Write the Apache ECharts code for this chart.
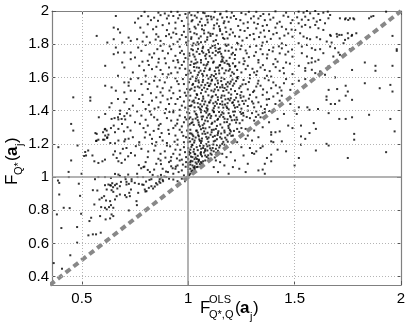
<!DOCTYPE html>
<html>
<head>
<meta charset="UTF-8">
<script src="https://cdn.jsdelivr.net/npm/echarts@6/dist/echarts.min.js"></script>
<title>F scatter</title>
<style>html,body{margin:0;padding:0;background:#fff}#main{width:409px;height:324px}</style>
</head>
<body>
<div id="main"></div>
<script>
var xMin = 0.36, xMax = 2, yMin = 0.35, yMax = 2;
var xTicks = [0.5, 1, 1.5, 2];
var yTicks = [0.4, 0.6, 0.8, 1, 1.2, 1.4, 1.6, 1.8, 2];
var refValue = 1;
var diagLine = [[0.35, 0.35], [2, 2]];

// sparse cloud left of x=0.74, above 1
var ptsUpperLeft = [
[0.66,1.97],[0.65,1.90],[0.67,1.89],[0.68,1.87],[0.57,1.85],[0.65,1.83],[0.72,1.84],[0.62,1.81],[0.69,1.81],[0.73,1.82],
[0.66,1.78],[0.67,1.75],[0.65,1.74],[0.70,1.75],[0.73,1.75],[0.69,1.69],[0.73,1.71],[0.61,1.67],[0.70,1.66],[0.67,1.61],
[0.73,1.59],[0.70,1.57],[0.72,1.57],[0.61,1.55],[0.64,1.54],[0.72,1.55],[0.66,1.52],[0.70,1.51],[0.73,1.52],[0.46,1.48],
[0.54,1.48],[0.54,1.46],[0.71,1.47],[0.63,1.42],[0.68,1.40],[0.70,1.45],[0.61,1.38],[0.64,1.35],[0.45,1.32],[0.46,1.28],
[0.39,1.18],[0.48,1.19],[0.45,1.10],[0.58,1.36],[0.57,1.26],[0.53,1.16],[0.52,1.13],[0.55,1.13],[0.57,1.22],[0.60,1.27],
[0.61,1.25],[0.61,1.29],[0.62,1.24],[0.60,1.225],[0.65,1.31],[0.67,1.36],[0.64,1.445],[0.67,1.47],
[0.654,1.355],[0.672,1.347],[0.687,1.35],[0.70,1.367],[0.679,1.38],[0.712,1.384],[0.723,1.41],[0.689,1.32],[0.704,1.347],[0.728,1.37],
[0.608,1.287],[0.617,1.28],[0.625,1.255],[0.637,1.295],[0.656,1.27],[0.672,1.29],[0.698,1.275],[0.715,1.30],[0.729,1.28],
[0.564,1.265],[0.567,1.217],[0.578,1.225],[0.606,1.225],[0.619,1.235],[0.634,1.205],[0.656,1.203],[0.672,1.22],[0.704,1.227],[0.72,1.231],[0.70,1.215],
[0.516,1.151],[0.511,1.127],[0.559,1.095],[0.578,1.085],[0.597,1.095],[0.609,1.105],[0.648,1.135],[0.656,1.155],[0.664,1.115],[0.672,1.095],[0.687,1.085],[0.703,1.105],[0.718,1.125],[0.731,1.145],[0.71,1.175],[0.693,1.17],[0.681,1.143],
[0.438,1.031],[0.439,1.0],[0.499,1.02],[0.578,1.0],[0.609,1.0],[0.656,1.019],[0.672,1.015],[0.679,1.007],[0.703,1.0],[0.718,1.015]
];

// between the diagonal and y=1
var ptsLowerLeft = [
[0.486,0.96],[0.633,0.951],[0.71,0.971],[0.684,0.971],[0.643,0.963],
[0.388,0.979],[0.394,0.965],[0.562,0.987],[0.637,0.995],[0.706,0.987],[0.734,0.987],[0.762,1.0],[0.788,1.0],[0.827,0.987],[0.866,0.987],[0.897,1.0],[0.874,0.998],
[0.394,0.895],[0.492,0.887],[0.552,0.921],[0.573,0.919],[0.609,0.951],[0.625,0.955],[0.637,0.949],[0.647,0.939],[0.656,0.951],[0.664,0.959],[0.679,0.945],[0.667,0.931],[0.64,0.921],[0.648,0.911],[0.617,0.925],
[0.605,0.885],[0.583,0.865],[0.559,0.835],[0.594,0.875],[0.614,0.859],[0.633,0.855],[0.656,0.865],[0.664,0.885],[0.679,0.895],[0.703,0.891],[0.723,0.905],[0.731,0.925],[0.726,0.885],[0.71,0.879],[0.757,0.855],[0.759,0.831],[0.765,0.905],
[0.415,0.815],[0.443,0.813],[0.383,0.775],[0.497,0.779],[0.591,0.819],[0.609,0.815],[0.617,0.805],[0.628,0.819],[0.637,0.831],[0.648,0.815],[0.64,0.775],[0.648,0.765],[0.633,0.751],[0.612,0.745],[0.586,0.765],[0.536,0.735],[0.544,0.755],[0.721,0.799],
[0.404,0.693],[0.478,0.699],[0.531,0.649],[0.552,0.655],[0.567,0.655],[0.589,0.665],[0.478,0.605],[0.446,0.529],[0.368,0.482],[0.407,0.448],
[0.71,0.955],[0.721,0.959],[0.734,0.975],[0.749,0.965],[0.768,0.959],[0.784,0.955],[0.796,0.925],[0.804,0.915],[0.815,0.935],[0.827,0.945],[0.835,0.931],[0.843,0.943],[0.855,0.955],[0.869,0.965],[0.882,0.975],
[0.802,0.973],[0.818,0.983],[0.79,0.953],[0.799,0.913],[0.88,0.983],[0.864,0.973],[0.849,0.963],[0.91,0.99],[0.93,0.985],[0.95,0.975],[0.97,0.99],[0.99,0.995],[0.96,0.96],[0.985,0.975]
];

// x from 0.74 to 1, above 1
var ptsMidLeft = [
[0.779,1.053],[0.794,1.063],[0.81,1.043],[0.833,1.013],[0.857,1.003],[0.872,1.013],[0.896,1.033],[0.927,1.053],[0.942,1.063],[0.888,1.003],
[0.76,1.02],[0.79,1.06],[0.82,1.03],[0.85,1.08],[0.88,1.05],[0.91,1.09],[0.93,1.02],[0.95,1.07],[0.97,1.04],[0.99,1.09],[0.98,1.01],[0.94,1.05],[0.87,1.1],[0.80,1.09],[0.96,1.1],[0.92,1.065],[0.84,1.045],[0.975,1.075],[0.955,1.03],[0.905,1.03],
[0.75,1.13],[0.78,1.17],[0.81,1.12],[0.84,1.16],[0.87,1.14],[0.9,1.19],[0.92,1.12],[0.94,1.165],[0.96,1.135],[0.98,1.18],[0.99,1.12],[0.77,1.195],[0.83,1.2],[0.86,1.11],[0.89,1.155],[0.95,1.195],[0.97,1.105],[0.93,1.14],[0.915,1.185],[0.985,1.15],
[0.74,1.24],[0.77,1.21],[0.80,1.27],[0.83,1.23],[0.86,1.29],[0.88,1.22],[0.91,1.26],[0.93,1.295],[0.95,1.225],[0.97,1.27],[0.99,1.24],[0.79,1.295],[0.82,1.255],[0.85,1.21],[0.875,1.265],[0.9,1.205],[0.94,1.25],[0.96,1.285],[0.98,1.21],[0.995,1.28],
[0.75,1.33],[0.78,1.37],[0.81,1.31],[0.84,1.36],[0.87,1.32],[0.89,1.385],[0.92,1.34],[0.94,1.31],[0.96,1.37],[0.98,1.33],[0.995,1.39],[0.76,1.395],[0.82,1.395],[0.855,1.345],[0.9,1.355],[0.93,1.39],[0.97,1.305],[0.985,1.36],[0.8,1.345],[0.95,1.345],
[0.74,1.43],[0.77,1.47],[0.80,1.41],[0.83,1.46],[0.86,1.42],[0.88,1.49],[0.91,1.44],[0.93,1.4],[0.95,1.47],[0.97,1.43],[0.99,1.49],[0.785,1.495],[0.815,1.435],[0.85,1.48],[0.895,1.41],[0.92,1.475],[0.96,1.405],[0.98,1.455],[0.87,1.45],[0.94,1.44],
[0.75,1.52],[0.78,1.56],[0.81,1.53],[0.84,1.58],[0.87,1.51],[0.89,1.57],[0.92,1.54],[0.94,1.595],[0.96,1.52],[0.98,1.56],[0.995,1.53],[0.765,1.595],[0.825,1.505],[0.855,1.545],[0.9,1.6],[0.93,1.505],[0.955,1.56],[0.975,1.59],[0.8,1.575],[0.88,1.535],
[0.74,1.63],[0.77,1.67],[0.80,1.61],[0.83,1.65],[0.86,1.69],[0.88,1.62],[0.91,1.66],[0.93,1.7],[0.95,1.63],[0.97,1.675],[0.99,1.615],[0.785,1.695],[0.845,1.605],[0.895,1.685],[0.92,1.625],[0.96,1.655],[0.98,1.695],[0.815,1.675],[0.87,1.645],[0.94,1.66],
[0.75,1.72],[0.78,1.76],[0.81,1.7],[0.84,1.745],[0.87,1.79],[0.89,1.715],[0.92,1.77],[0.94,1.73],[0.96,1.785],[0.98,1.74],[0.995,1.795],[0.8,1.795],[0.83,1.72],[0.855,1.77],[0.905,1.745],[0.93,1.8],[0.95,1.705],[0.97,1.76],[0.765,1.78],[0.88,1.76],
[0.76,1.83],[0.79,1.87],[0.82,1.81],[0.85,1.86],[0.87,1.82],[0.9,1.885],[0.92,1.84],[0.94,1.895],[0.96,1.83],[0.98,1.875],[0.99,1.81],[0.775,1.9],[0.835,1.89],[0.86,1.845],[0.885,1.8],[0.91,1.86],[0.95,1.815],[0.97,1.855],[0.805,1.845],[0.93,1.87],
[0.75,1.93],[0.78,1.97],[0.81,1.92],[0.84,1.96],[0.86,1.99],[0.88,1.915],[0.9,1.955],[0.92,1.995],[0.94,1.93],[0.96,1.975],[0.98,1.91],[0.995,1.96],[0.795,1.995],[0.825,1.945],[0.85,1.905],[0.87,1.975],[0.91,1.925],[0.93,1.97],[0.95,1.995],[0.97,1.94],[0.89,1.985],[0.765,1.955],
[0.768,1.072],[0.812,1.154],[0.846,1.189],[0.872,1.078],[0.893,1.117],[0.918,1.098],[0.947,1.112],[0.963,1.164],[0.988,1.062],[0.754,1.186],[0.796,1.238],[0.838,1.278],[0.867,1.241],[0.907,1.284],[0.936,1.213],[0.977,1.248],
[0.773,1.321],[0.826,1.376],[0.862,1.311],[0.912,1.392],[0.948,1.322],[0.992,1.347],[0.788,1.452],[0.842,1.412],[0.903,1.468],[0.962,1.482],[0.986,1.418],[0.817,1.561],[0.866,1.583],[0.912,1.521],[0.948,1.577],[0.984,1.508],
[0.792,1.643],[0.851,1.664],[0.907,1.618],[0.953,1.691],[0.986,1.652],[0.818,1.738],[0.862,1.712],[0.913,1.787],[0.962,1.748],[0.987,1.717],[0.786,1.816],[0.847,1.828],[0.896,1.849],[0.944,1.862],[0.989,1.843],[0.812,1.968],[0.858,1.941],[0.908,1.972],[0.953,1.956],[0.987,1.982]
];

// dense core, x from 1 to 1.3
var ptsCore = [
[1.00,1.005],[1.01,1.02],[1.00,1.03],[1.02,1.04],[1.01,1.05],[1.03,1.045],[1.00,1.045],[1.02,1.028],[1.005,1.012],[1.03,1.055],[1.00,1.018],[1.015,1.035],[1.04,1.06],[1.00,1.06],[1.02,1.07],[1.04,1.08],[1.01,1.09],[1.06,1.09],[1.03,1.065],[1.05,1.10],[1.00,1.085],[1.07,1.095],[1.02,1.095],[1.045,1.062],[1.08,1.10],[1.01,1.075],[1.035,1.088],[1.055,1.078],[1.00,1.072],[1.025,1.058],[1.065,1.082],[1.012,1.098],[1.048,1.092],
[1.00,1.11],[1.02,1.12],[1.05,1.105],[1.08,1.13],[1.11,1.135],[1.03,1.14],[1.06,1.15],[1.09,1.16],[1.13,1.17],[1.01,1.165],[1.04,1.18],[1.07,1.175],[1.10,1.19],[1.15,1.19],[1.02,1.195],[1.12,1.155],[1.005,1.135],[1.035,1.118],[1.065,1.125],[1.095,1.112],[1.075,1.148],[1.045,1.162],[1.025,1.152],[1.115,1.175],[1.14,1.158],[1.055,1.188],[1.085,1.198],[1.16,1.2],[1.015,1.182],[1.105,1.142],[1.135,1.192],[1.00,1.175],[1.06,1.135],[1.03,1.108],[1.09,1.185],[1.125,1.118],[1.045,1.128],[1.17,1.195],[1.08,1.168],[1.01,1.145],
[1.00,1.21],[1.03,1.22],[1.06,1.205],[1.09,1.23],[1.12,1.215],[1.15,1.24],[1.18,1.225],[1.21,1.25],[1.02,1.255],[1.05,1.245],[1.08,1.26],[1.11,1.27],[1.14,1.265],[1.17,1.28],[1.20,1.275],[1.23,1.29],[1.01,1.285],[1.04,1.28],[1.07,1.295],[1.10,1.3],[1.13,1.29],[1.16,1.298],[1.25,1.295],[1.005,1.235],[1.035,1.238],[1.065,1.232],[1.095,1.212],[1.125,1.248],[1.155,1.262],[1.185,1.252],[1.215,1.278],[1.045,1.268],[1.075,1.275],[1.105,1.255],[1.135,1.228],[1.195,1.262],[1.015,1.262],[1.055,1.218],[1.085,1.242],[1.165,1.212],[1.24,1.272],[1.27,1.29],[1.02,1.228],[1.12,1.285],[1.06,1.288],[1.19,1.295],
[1.00,1.31],[1.02,1.33],[1.05,1.315],[1.08,1.34],[1.11,1.32],[1.14,1.35],[1.17,1.33],[1.20,1.36],[1.23,1.345],[1.26,1.37],[1.29,1.355],[1.01,1.36],[1.04,1.375],[1.07,1.365],[1.10,1.38],[1.13,1.37],[1.16,1.39],[1.19,1.385],[1.22,1.395],[1.25,1.38],[1.28,1.4],[1.03,1.395],[1.06,1.39],[1.09,1.4],[1.12,1.395],[1.015,1.325],[1.045,1.342],[1.075,1.322],[1.105,1.355],[1.135,1.308],[1.165,1.362],[1.195,1.318],[1.225,1.328],[1.255,1.342],[1.005,1.385],[1.035,1.352],[1.065,1.348],[1.095,1.372],[1.125,1.335],[1.155,1.375],[1.185,1.348],[1.215,1.372],[1.245,1.392],[1.275,1.362],[1.055,1.305],[1.085,1.388],[1.145,1.392],[1.205,1.342],
[1.00,1.41],[1.03,1.42],[1.06,1.405],[1.09,1.43],[1.12,1.415],[1.15,1.44],[1.18,1.425],[1.21,1.45],[1.24,1.435],[1.27,1.46],[1.02,1.455],[1.05,1.47],[1.08,1.455],[1.11,1.48],[1.14,1.465],[1.17,1.49],[1.20,1.475],[1.23,1.5],[1.26,1.485],[1.29,1.495],[1.01,1.49],[1.04,1.5],[1.07,1.485],[1.10,1.45],[1.13,1.495],[1.16,1.455],[1.19,1.408],[1.22,1.418],[1.25,1.412],[1.28,1.428],[1.015,1.432],[1.045,1.445],[1.075,1.438],[1.105,1.462],[1.135,1.442],[1.165,1.418],[1.195,1.462],[1.225,1.478],[1.255,1.458],[1.285,1.472],[1.035,1.478],[1.065,1.425],[1.095,1.492],[1.125,1.428],[1.155,1.478],[1.185,1.445],[1.215,1.432],[1.245,1.492],[1.005,1.462],[1.055,1.412],[1.115,1.402],[1.175,1.468],[1.235,1.455],
[1.00,1.51],[1.03,1.52],[1.06,1.505],[1.09,1.53],[1.12,1.515],[1.15,1.54],[1.18,1.525],[1.21,1.55],[1.24,1.535],[1.27,1.56],[1.02,1.555],[1.05,1.57],[1.08,1.555],[1.11,1.58],[1.14,1.565],[1.17,1.59],[1.20,1.575],[1.23,1.6],[1.26,1.585],[1.29,1.595],[1.01,1.59],[1.04,1.6],[1.07,1.585],[1.10,1.55],[1.13,1.595],[1.16,1.555],[1.19,1.508],[1.22,1.518],[1.25,1.512],[1.28,1.528],[1.015,1.532],[1.045,1.545],[1.075,1.538],[1.105,1.562],[1.135,1.542],[1.165,1.518],[1.195,1.562],[1.225,1.578],[1.255,1.558],[1.285,1.572],[1.035,1.578],[1.065,1.525],[1.095,1.592],[1.125,1.528],[1.155,1.578],[1.185,1.545],
[1.00,1.62],[1.02,1.605],[1.05,1.63],[1.07,1.61],[1.10,1.645],[1.13,1.62],[1.16,1.655],[1.19,1.64],[1.22,1.665],[1.25,1.63],[1.28,1.67],[1.01,1.675],[1.04,1.66],[1.06,1.69],[1.09,1.68],[1.12,1.695],[1.15,1.675],[1.18,1.7],[1.21,1.685],[1.24,1.69],[1.27,1.65],[1.03,1.64],[1.08,1.655],[1.11,1.615],[1.14,1.66],[1.17,1.625],[1.2,1.61],[1.23,1.645],[1.26,1.68],[1.29,1.615],[1.015,1.695],[1.045,1.615],[1.085,1.672],[1.125,1.638],[1.155,1.695],[1.195,1.668],[1.235,1.602],[1.265,1.698],[1.035,1.685],[1.075,1.638],[1.105,1.602],[1.145,1.642],[1.185,1.682],[1.215,1.622],
[1.00,1.71],[1.03,1.725],[1.06,1.705],[1.085,1.74],[1.11,1.715],[1.14,1.75],[1.165,1.72],[1.19,1.76],[1.22,1.735],[1.245,1.77],[1.275,1.745],[1.015,1.77],[1.04,1.755],[1.07,1.785],[1.095,1.765],[1.125,1.795],[1.15,1.775],[1.18,1.79],[1.205,1.78],[1.235,1.8],[1.26,1.715],[1.29,1.785],[1.005,1.745],[1.05,1.8],[1.08,1.73],[1.13,1.76],[1.16,1.708],[1.21,1.748],[1.25,1.79],[1.02,1.792],[1.065,1.758],[1.105,1.778],[1.155,1.742],[1.195,1.718],[1.225,1.768],[1.27,1.762],[1.035,1.708],[1.115,1.748],[1.175,1.798],[1.285,1.722],
[1.00,1.82],[1.025,1.805],[1.05,1.835],[1.08,1.815],[1.105,1.85],[1.13,1.825],[1.16,1.86],[1.185,1.835],[1.21,1.87],[1.24,1.845],[1.265,1.88],[1.29,1.855],[1.01,1.875],[1.04,1.86],[1.065,1.89],[1.095,1.87],[1.12,1.895],[1.15,1.88],[1.175,1.9],[1.2,1.89],[1.23,1.808],[1.255,1.822],[1.28,1.898],[1.015,1.842],[1.06,1.812],[1.09,1.842],[1.14,1.802],[1.17,1.832],[1.22,1.848],[1.035,1.895],[1.075,1.865],[1.115,1.862],[1.195,1.858],[1.245,1.885],[1.275,1.838],[1.005,1.892],
[1.00,1.92],[1.03,1.905],[1.055,1.935],[1.08,1.915],[1.11,1.95],[1.135,1.925],[1.16,1.96],[1.19,1.935],[1.215,1.97],[1.245,1.945],[1.27,1.98],[1.295,1.955],[1.015,1.975],[1.04,1.96],[1.07,1.99],[1.095,1.97],[1.125,1.995],[1.15,1.98],[1.18,1.998],[1.205,1.99],[1.235,1.91],[1.26,1.925],[1.285,1.995],[1.02,1.945],[1.065,1.912],[1.09,1.948],[1.145,1.908],[1.17,1.938],[1.225,1.952],[1.045,1.992],[1.085,1.968],[1.12,1.962],[1.2,1.96],[1.25,1.988],[1.28,1.932],[1.005,1.99]
];

// extra points where the core is densest
var ptsCoreDense = [
[1.013,1.123],[1.027,1.167],[1.041,1.109],[1.058,1.143],[1.072,1.188],[1.087,1.121],[1.103,1.173],[1.118,1.196],[1.132,1.147],[1.009,1.214],[1.024,1.246],[1.038,1.279],[1.052,1.227],[1.067,1.261],[1.081,1.293],[1.096,1.238],[1.111,1.284],[1.127,1.219],[1.142,1.276],[1.157,1.231],[1.171,1.269],[1.186,1.213],[1.203,1.248],[1.218,1.226],
[1.007,1.318],[1.021,1.347],[1.036,1.381],[1.049,1.329],[1.063,1.364],[1.078,1.397],[1.092,1.336],[1.108,1.368],[1.121,1.391],[1.137,1.344],[1.151,1.317],[1.166,1.383],[1.182,1.331],[1.197,1.367],[1.211,1.394],[1.227,1.359],[1.242,1.324],[1.258,1.386],
[1.011,1.427],[1.026,1.461],[1.042,1.494],[1.057,1.438],[1.071,1.472],[1.086,1.416],[1.099,1.449],[1.114,1.487],[1.129,1.453],[1.143,1.419],[1.158,1.491],[1.173,1.437],[1.188,1.471],[1.202,1.497],[1.217,1.464],[1.231,1.422],[1.247,1.478],[1.262,1.441],
[1.008,1.526],[1.023,1.561],[1.037,1.593],[1.053,1.539],[1.068,1.572],[1.082,1.514],[1.097,1.549],[1.112,1.586],[1.126,1.557],[1.141,1.523],[1.156,1.598],[1.171,1.536],[1.186,1.571],[1.201,1.529],[1.216,1.563],[1.232,1.594],[1.246,1.547],
[1.012,1.628],[1.027,1.663],[1.043,1.691],[1.058,1.641],[1.073,1.676],[1.088,1.612],[1.102,1.653],[1.117,1.689],[1.131,1.659],[1.146,1.624],[1.162,1.697],[1.177,1.642],[1.192,1.678],[1.207,1.631],[1.222,1.669],
[1.006,1.731],[1.022,1.764],[1.038,1.797],[1.053,1.741],[1.068,1.776],[1.083,1.713],[1.098,1.752],[1.114,1.789],[1.128,1.734],[1.143,1.771],[1.158,1.726],[1.174,1.761],[1.189,1.797],[1.204,1.739],[1.219,1.711],
[1.014,1.832],[1.029,1.866],[1.044,1.812],[1.059,1.847],[1.074,1.883],[1.089,1.827],[1.104,1.863],[1.119,1.818],[1.134,1.853],[1.149,1.891],[1.164,1.838],[1.179,1.874],
[1.016,1.938],[1.031,1.972],[1.047,1.918],[1.062,1.953],[1.077,1.987],[1.092,1.931],[1.107,1.966],[1.122,1.914],[1.137,1.948],[1.152,1.984],[1.167,1.927],[1.182,1.963],
[1.004,1.152],[1.019,1.193],[1.033,1.137],[1.061,1.171],[1.079,1.158],[1.094,1.131],[1.109,1.161],[1.146,1.178],[1.008,1.263],[1.028,1.208],[1.047,1.252],[1.063,1.217],[1.091,1.267],[1.116,1.242],[1.138,1.253],[1.174,1.237],[1.196,1.284],
[1.004,1.352],[1.026,1.314],[1.043,1.361],[1.068,1.312],[1.088,1.358],[1.113,1.327],[1.148,1.364],[1.171,1.351],[1.189,1.308],[1.218,1.344],[1.003,1.428],[1.029,1.448],[1.048,1.421],[1.066,1.459],[1.091,1.409],[1.118,1.444],[1.139,1.481],[1.161,1.436],[1.183,1.416],[1.207,1.447],
[1.004,1.571],[1.031,1.541],[1.048,1.582],[1.062,1.553],[1.091,1.567],[1.109,1.521],[1.138,1.581],[1.161,1.541],[1.178,1.559],[1.208,1.587],[1.005,1.641],[1.027,1.682],[1.051,1.658],[1.066,1.621],[1.094,1.693],[1.121,1.608],[1.147,1.671],[1.171,1.688],[1.196,1.649],
[1.024,1.738],[1.046,1.772],[1.071,1.749],[1.101,1.728],[1.127,1.779],[1.148,1.754]
];

// x from 1.3 to 1.6, above the diagonal
var ptsMidRight = [
[1.31,1.34],[1.33,1.375],[1.36,1.39],[1.32,1.395],[1.30,1.385],[1.34,1.36],[1.38,1.398],[1.35,1.385],
[1.31,1.42],[1.33,1.45],[1.36,1.41],[1.38,1.47],[1.41,1.44],[1.44,1.49],[1.32,1.48],[1.35,1.495],[1.30,1.455],[1.40,1.485],[1.37,1.435],[1.43,1.46],
[1.31,1.52],[1.34,1.55],[1.37,1.51],[1.40,1.57],[1.43,1.54],[1.46,1.59],[1.49,1.56],[1.52,1.58],[1.33,1.58],[1.36,1.595],[1.39,1.535],[1.42,1.505],[1.45,1.565],[1.32,1.545],[1.48,1.525],[1.55,1.59],
[1.31,1.63],[1.34,1.66],[1.37,1.61],[1.40,1.68],[1.43,1.64],[1.46,1.69],[1.49,1.62],[1.52,1.67],[1.33,1.69],[1.36,1.645],[1.39,1.605],[1.42,1.695],[1.45,1.625],[1.55,1.64],[1.58,1.69],[1.32,1.615],
[1.31,1.73],[1.34,1.77],[1.37,1.715],[1.40,1.78],[1.43,1.745],[1.46,1.795],[1.49,1.725],[1.32,1.79],[1.35,1.74],[1.38,1.765],[1.41,1.71],[1.44,1.775],[1.47,1.755],[1.33,1.705],
[1.31,1.83],[1.34,1.87],[1.37,1.815],[1.40,1.86],[1.43,1.835],[1.46,1.89],[1.49,1.845],[1.32,1.895],[1.35,1.81],[1.38,1.88],[1.41,1.9],[1.44,1.805],[1.47,1.865],[1.36,1.845],
[1.31,1.93],[1.34,1.97],[1.37,1.915],[1.40,1.96],[1.43,1.935],[1.46,1.99],[1.49,1.945],[1.32,1.995],[1.35,1.91],[1.38,1.98],[1.41,1.998],[1.44,1.905],[1.47,1.965],[1.36,1.945],[1.33,1.955],
[1.305,1.512],[1.327,1.563],[1.352,1.528],[1.378,1.583],[1.412,1.552],[1.438,1.521],[1.302,1.652],[1.324,1.637],[1.351,1.674],[1.383,1.638],[1.411,1.662],[1.447,1.657],[1.478,1.683],
[1.318,1.752],[1.346,1.791],[1.372,1.738],[1.397,1.757],[1.426,1.787],[1.457,1.738],[1.488,1.768],[1.307,1.862],[1.333,1.843],[1.356,1.883],[1.388,1.832],[1.416,1.868],[1.452,1.852],[1.486,1.888],
[1.308,1.968],[1.327,1.922],[1.353,1.982],[1.386,1.948],[1.418,1.925],[1.448,1.972],[1.482,1.927],[1.512,1.962],[1.534,1.948],[1.306,1.443],[1.342,1.425],[1.369,1.468],[1.318,1.362]
];

// below the diagonal, middle and right of the plot
var ptsBelowDiag = [
[1.12,1.06],[1.15,1.09],[1.14,1.03],[1.18,1.12],[1.17,1.07],[1.2,1.15],[1.21,1.06],[1.22,1.1],[1.24,1.05],[1.25,1.18],[1.23,1.21],[1.26,1.13],[1.27,1.23],[1.28,1.08],[1.29,1.175],
[1.30,1.145],[1.31,1.14],[1.32,1.155],[1.33,1.04],[1.34,1.175],[1.35,1.185],[1.35,1.045],[1.36,1.02],[1.37,1.115],[1.39,1.135],[1.39,1.095],[1.39,1.215],[1.39,1.255],[1.41,1.27],[1.42,1.165],
[1.43,1.275],[1.44,1.215],[1.46,1.155],[1.35,1.30],[1.39,1.27],[1.40,1.21],[1.19,1.02],[1.16,1.14],[1.13,1.1],[1.28,1.25],[1.3,1.22],[1.27,1.03],[1.31,1.28],[1.33,1.24],[1.36,1.08],
[1.38,1.33],[1.42,1.35],[1.45,1.38],[1.48,1.44],[1.47,1.31],[1.50,1.07],[1.52,1.115],[1.53,1.195],[1.55,1.23],[1.53,1.245],[1.49,1.295],[1.53,1.31],[1.57,1.265],[1.60,1.29],[1.59,1.325],
[1.50,1.40],[1.51,1.38],[1.52,1.42],[1.56,1.42],[1.57,1.405],[1.61,1.41],[1.66,1.385],[1.60,1.16],[1.65,1.20],[1.66,1.19],[1.75,1.115],[1.93,1.15],[1.97,1.275],[1.78,1.26],[1.78,1.225],
[1.71,1.35],[1.74,1.35],[1.77,1.36],[1.85,1.375],[1.95,1.35],[1.65,1.465],[1.67,1.44],[1.69,1.44],[1.71,1.46],[1.74,1.49],[1.77,1.465],
[1.83,1.69],[1.88,1.67],[1.88,1.64],[1.96,1.67],[1.96,1.85],[1.98,1.76],[1.98,1.77],[1.77,1.645],[1.69,1.60],[1.66,1.525],[1.70,1.53],[1.74,1.55],[1.75,1.515],[1.90,1.535],[1.96,1.515],
[1.95,1.555],[1.83,1.565],[1.65,1.485]
];

// top right, above the diagonal
var ptsUpperRight = [
[1.519,1.996],[1.542,1.99],[1.558,2.0],[1.573,1.986],[1.597,2.0],[1.612,1.982],[1.635,1.99],[1.656,1.996],[1.667,1.976],[1.659,1.956],
[1.55,1.966],[1.565,1.946],[1.589,1.956],[1.604,1.936],[1.62,1.946],[1.643,1.926],[1.713,1.956],[1.737,1.95],[1.752,1.946],[1.776,1.956],
[1.519,1.926],[1.534,1.906],[1.55,1.916],[1.573,1.902],[1.597,1.916],[1.612,1.896],[1.635,1.886],[1.667,1.856],[1.698,1.862],[1.721,1.856],[1.737,1.826],[1.752,1.836],[1.768,1.85],
[1.503,1.886],[1.526,1.866],[1.542,1.846],[1.558,1.836],[1.573,1.83],[1.604,1.842],[1.62,1.83],[1.651,1.816],[1.674,1.81],[1.667,1.786],[1.69,1.776],[1.706,1.75],[1.713,1.736],[1.682,1.726],[1.702,1.696],
[1.519,1.806],[1.534,1.786],[1.558,1.796],[1.581,1.776],[1.597,1.766],[1.62,1.77],[1.635,1.746],[1.534,1.746],[1.558,1.726],[1.581,1.716],[1.597,1.696],[1.612,1.706],[1.565,1.686],[1.55,1.656],[1.581,1.646],[1.597,1.626],[1.62,1.636],[1.643,1.616],[1.659,1.666],
[1.86,1.966],[1.87,1.97],[1.85,1.956],[1.93,1.996],[1.74,1.956],[1.76,1.956],[1.78,1.95],[1.75,1.866],[1.77,1.856],[1.79,1.866],[1.73,1.806],[1.76,1.77],[1.67,1.85],[1.70,1.846],[1.71,1.856]
];

var allPts = [].concat(ptsUpperLeft, ptsLowerLeft, ptsMidLeft, ptsCore, ptsCoreDense, ptsMidRight, ptsBelowDiag, ptsUpperRight);

var fontFam = '"Liberation Sans", Arial, sans-serif';
var gridLines = [];
xTicks.forEach(function (v) {
  if (v > xMin && v < xMax) {
    gridLines.push({ xAxis: v, lineStyle: v === refValue ? { type: 'solid', color: '#9a9a9a', width: 1.5 } : { type: [1, 2], color: '#b4b4b4', width: 1 } });
  }
});
yTicks.forEach(function (v) {
  if (v > yMin && v < yMax) {
    gridLines.push({ yAxis: v, lineStyle: v === refValue ? { type: 'solid', color: '#9a9a9a', width: 1.5 } : { type: [1, 2], color: '#b4b4b4', width: 1 } });
  }
});

function makeX(pos) {
  return {
    type: 'value', position: pos, min: xMin, max: xMax,
    axisLine: { show: true, onZero: false, lineStyle: { color: '#808080', width: 1.2 } },
    axisTick: { show: true, inside: true, length: 4, customValues: xTicks, lineStyle: { color: '#555' } },
    axisLabel: { show: pos === 'bottom', customValues: xTicks, margin: 6, color: '#000', fontSize: 15, fontFamily: fontFam },
    splitLine: { show: false }
  };
}
function makeY(pos) {
  return {
    type: 'value', position: pos, min: yMin, max: yMax,
    axisLine: { show: true, onZero: false, lineStyle: { color: '#808080', width: 1.2 } },
    axisTick: { show: true, inside: true, length: 4, customValues: yTicks, lineStyle: { color: '#555' } },
    axisLabel: { show: pos === 'left', customValues: yTicks, margin: 3, color: '#000', fontSize: 15, fontFamily: fontFam },
    splitLine: { show: false }
  };
}

var sub = 11, big = 17;
var option = {
  animation: false,
  backgroundColor: '#fff',
  grid: { left: 52, right: 8, top: 11, bottom: 39 },
  xAxis: [makeX('bottom'), makeX('top')],
  yAxis: [makeY('left'), makeY('right')],
  series: [
    {
      type: 'line', data: [], silent: true, z: 1,
      markLine: { silent: true, symbol: ['none', 'none'], label: { show: false }, animation: false, data: gridLines }
    },
    {
      type: 'scatter', data: allPts, symbol: 'rect', symbolSize: 2, z: 2, silent: true,
      itemStyle: { color: '#000' }
    },
    {
      type: 'line', data: diagLine, symbol: 'none', z: 3, silent: true,
      lineStyle: { color: '#888', width: 4, type: [6, 4] }
    }
  ],
  graphic: [
    { type: 'text', left: 200, top: 300, style: { text: 'F', fontSize: big, fontFamily: fontFam, fill: '#000' } },
    { type: 'text', left: 209, top: 294, style: { text: 'OLS', fontSize: sub, fontFamily: fontFam, fill: '#000' } },
    { type: 'text', left: 209, top: 309, style: { text: 'Q*,Q', fontSize: sub, fontFamily: fontFam, fill: '#000' } },
    { type: 'text', left: 235, top: 300, style: { text: '(', fontSize: big, fontFamily: fontFam, fill: '#000' } },
    { type: 'text', left: 240, top: 300, style: { text: 'a', fontSize: big, fontWeight: 'bold', fontFamily: fontFam, fill: '#000' } },
    { type: 'text', left: 250, top: 311, style: { text: 'j', fontSize: sub, fontFamily: fontFam, fill: '#000' } },
    { type: 'text', left: 253, top: 300, style: { text: ')', fontSize: big, fontFamily: fontFam, fill: '#000' } },
    {
      type: 'group', x: 4, y: 185, rotation: Math.PI / 2,
      children: [
        { type: 'text', x: 0, y: 0, style: { text: 'F', fontSize: big, fontFamily: fontFam, fill: '#000' } },
        { type: 'text', x: 10, y: 9, style: { text: 'Q*', fontSize: sub, fontFamily: fontFam, fill: '#000' } },
        { type: 'text', x: 24, y: 0, style: { text: '(', fontSize: big, fontFamily: fontFam, fill: '#000' } },
        { type: 'text', x: 29, y: 0, style: { text: 'a', fontSize: big, fontWeight: 'bold', fontFamily: fontFam, fill: '#000' } },
        { type: 'text', x: 39, y: 10, style: { text: 'j', fontSize: sub, fontFamily: fontFam, fill: '#000' } },
        { type: 'text', x: 42, y: 0, style: { text: ')', fontSize: big, fontFamily: fontFam, fill: '#000' } }
      ]
    }
  ]
};

var myChart = echarts.init(document.getElementById('main'));
myChart.setOption(option);
</script>
</body>
</html>
